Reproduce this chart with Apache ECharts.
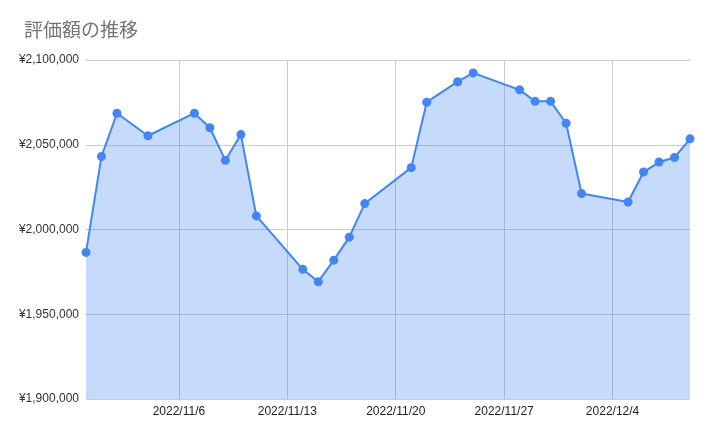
<!DOCTYPE html>
<html>
<head>
<meta charset="utf-8">
<script src="https://cdn.jsdelivr.net/npm/echarts@6/dist/echarts.min.js"></script>
<style>
html,body{margin:0;padding:0;background:#fff;}
#chart{width:711px;height:436px;}
</style>
</head>
<body>
<div id="chart"></div>
<script>
const title = '評価額の推移';
const rangeStart = '2022/10/31';
const rangeEnd = '2022/12/9';
const dates = ['2022/10/31','2022/11/1','2022/11/2','2022/11/4','2022/11/7','2022/11/8','2022/11/9','2022/11/10','2022/11/11',
  '2022/11/14','2022/11/15','2022/11/16','2022/11/17','2022/11/18','2022/11/21','2022/11/22','2022/11/24','2022/11/25',
  '2022/11/28','2022/11/29','2022/11/30','2022/12/1','2022/12/2','2022/12/5','2022/12/6','2022/12/7','2022/12/8','2022/12/9'];
const values = [1986500,2043100,2068600,2055300,2068600,2060000,2040800,2056000,2008000,
  1976500,1969200,1981900,1995500,2015300,2036500,2075100,2087200,2092400,
  2082400,2075600,2075600,2062700,2021200,2016200,2033900,2039800,2042500,2053500];
const yMin = 1900000, yMax = 2100000, yStep = 50000;

function parseD(s){const p=s.split('/').map(Number);return new Date(p[0],p[1]-1,p[2]);}
function fmt(d){return d.getFullYear()+'/'+(d.getMonth()+1)+'/'+d.getDate();}

const categories = [];
const isSunday = [];
for (let d = parseD(rangeStart); d <= parseD(rangeEnd); d = new Date(d.getFullYear(), d.getMonth(), d.getDate()+1)) {
  categories.push(fmt(d));
  isSunday.push(d.getDay() === 0);
}
const valueMap = {};
dates.forEach((d,i)=>{valueMap[fmt(parseD(d))] = values[i];});
const seriesData = categories.map(c => (c in valueMap) ? valueMap[c] : null);

const chart = echarts.init(document.getElementById('chart'), null, {renderer:'canvas'});
chart.setOption({
  animation: false,
  backgroundColor: '#fff',
  title: {
    text: title, left: 19, top: 15,
    textStyle: {fontFamily: '"Noto Sans CJK JP", sans-serif', fontSize: 19, fontWeight: 'normal', color: '#757575'}
  },
  grid: {left: 86, right: 21, top: 60, bottom: 37, containLabel: false},
  xAxis: {
    type: 'category', data: categories, boundaryGap: false,
    axisLine: {show: false}, axisTick: {show: false},
    axisLabel: {
      interval: (i) => isSunday[i], margin: 7,
      fontFamily: '"Liberation Sans", Arial, sans-serif', fontSize: 12, color: '#222'
    },
    splitLine: {show: true, interval: (i) => isSunday[i], lineStyle: {color: '#cccccc', width: 1}}
  },
  yAxis: {
    type: 'value', min: yMin, max: yMax, interval: yStep,
    axisLine: {show: false}, axisTick: {show: false},
    axisLabel: {
      margin: 7, fontFamily: '"Liberation Sans", Arial, sans-serif', fontSize: 12, color: '#333',
      formatter: v => '¥' + v.toLocaleString('en-US')
    },
    splitLine: {lineStyle: {color: '#cccccc', width: 1}}
  },
  series: [{
    type: 'line', data: seriesData, connectNulls: true,
    symbol: 'circle', symbolSize: 9, showSymbol: true,
    lineStyle: {color: '#4285f4', width: 2},
    itemStyle: {color: '#4285f4'},
    areaStyle: {color: '#4285f4', opacity: 0.3}
  }]
});
</script>
</body>
</html>
